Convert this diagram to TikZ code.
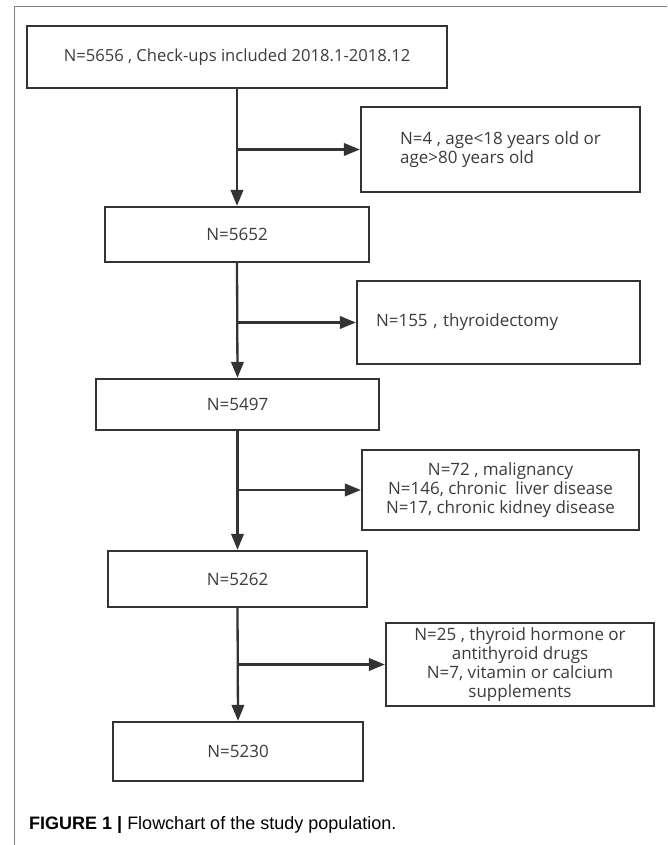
\documentclass[tikz,border=0pt]{standalone}
\usepackage{fontspec}
\setmainfont{Open Sans}
\newfontfamily\capfont{Liberation Sans}
\usetikzlibrary{arrows.meta}
\definecolor{boxline}{HTML}{333333}
\definecolor{txt}{HTML}{3c3c3c}
\definecolor{frame}{HTML}{808080}
\tikzset{
  box/.style={draw=boxline, line width=2.3pt, fill=white, text=txt,
    font=\fontsize{17}{19}\selectfont, inner sep=0pt, align=center},
  arr/.style={draw=boxline, line width=2.3pt, -{Triangle[length=16pt,width=12.5pt]}},
  frameline/.style={draw=frame, line width=1pt}
}
\begin{document}
\begin{tikzpicture}[x=1pt,y=-1pt]
\useasboundingbox (0,0) rectangle (667,845);
\draw[frameline] (667,7) -- (14,7) -- (14,845);

\node[box, minimum width=420pt, minimum height=62pt, font=\fontsize{16.6}{19}\selectfont] (b1) at (237,57) {N=5656 , Check-ups included 2018.1-2018.12};
\node[box, align=left, minimum width=279pt, minimum height=85pt] (e1) at (500.5,149.5) {N=4 , age<18 years old or\\age>80 years old};
\node[box, minimum width=264pt, minimum height=55pt] (b2) at (237,234.5) {N=5652};
\node[box, align=left, minimum width=283pt, minimum height=83pt, text width=245pt] (e2) at (498.5,322.5) {N=155 , thyroidectomy};
\node[box, minimum width=283pt, minimum height=51pt] (b3) at (237.5,404.5) {N=5497};
\node[box, minimum width=277pt, minimum height=80pt] (e3) at (500.5,490) {N=72 , malignancy\\N=146, chronic\ \ liver disease\\N=17, chronic kidney disease};
\node[box, minimum width=259pt, minimum height=56pt] (b4) at (237.5,579) {N=5262};
\node[box, minimum width=268pt, minimum height=83pt] (e4) at (520,664.5) {N=25 , thyroid hormone or\\antithyroid drugs\\N=7, vitamin or calcium\\supplements};
\node[box, minimum width=250pt, minimum height=59pt] (b5) at (238,751.5) {N=5230};

\draw[arr] (b1.south) -- (b2.north);
\draw[arr] (b1.south |- e1.west) -- (e1.west);
\draw[arr] (b2.south) -- (b3.north);
\draw[arr] (b2.south |- e2.west) -- (e2.west);
\draw[arr] (b3.south) -- (b4.north);
\draw[arr] (b3.south |- e3.west) -- (e3.west);
\draw[arr] (b4.south) -- (b5.north);
\draw[arr] (b4.south |- e4.west) -- (e4.west);

\node[anchor=base west, inner sep=0pt, font=\capfont\fontsize{18}{20}\selectfont, text=black] (cap) at (29,829) {\textbf{FIGURE 1 |} Flowchart of the study population.};
\end{tikzpicture}
\end{document}
